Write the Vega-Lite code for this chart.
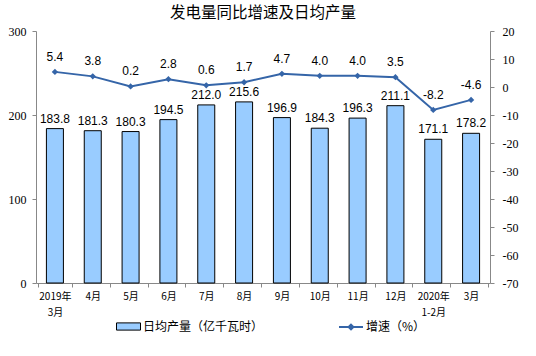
{
  "$schema": "https://vega.github.io/schema/vega-lite/v6.json",
  "width": 454,
  "height": 252,
  "autosize": "none",
  "padding": {"left": 36, "top": 31, "right": 46, "bottom": 73},
  "background": "white",
  "title": {"text": "发电量同比增速及日均产量", "font": "Noto Sans CJK SC", "fontSize": 15.5, "fontWeight": "normal", "color": "#000", "offset": 4, "anchor": "middle"},
  "config": {"view": {"stroke": null}, "axis": {"grid": false},
    "locale": {"number": {"decimal": ".", "thousands": ",", "grouping": [3], "currency": ["$", ""], "minus": "-"}}},
  "data": {"values": [
    {"m": "2019年\n3月", "v": 183.8, "g": 5.4},
    {"m": "4月", "v": 181.3, "g": 3.8},
    {"m": "5月", "v": 180.3, "g": 0.2},
    {"m": "6月", "v": 194.5, "g": 2.8},
    {"m": "7月", "v": 212.0, "g": 0.6},
    {"m": "8月", "v": 215.6, "g": 1.7},
    {"m": "9月", "v": 196.9, "g": 4.7},
    {"m": "10月", "v": 184.3, "g": 4.0},
    {"m": "11月", "v": 196.3, "g": 4.0},
    {"m": "12月", "v": 211.1, "g": 3.5},
    {"m": "2020年\n1-2月", "v": 171.1, "g": -8.2},
    {"m": "3月", "v": 178.2, "g": -4.6}
  ]},
  "encoding": {
    "x": {"field": "m", "type": "nominal", "sort": null, "title": null,
      "axis": {"labelAngle": 0, "labelExpr": "split(datum.label, '\\n')", "labelFont": "Noto Sans CJK SC", "labelFontSize": 10, "labelColor": "#000", "domainColor": "#888", "tickColor": "#888", "tickBand": "extent", "tickSize": 4, "labelPadding": 4, "labelLineHeight": 16}}
  },
  "layer": [
    {
      "encoding": {"y": {"field": "v", "type": "quantitative", "title": null,
        "scale": {"domain": [0, 300]},
        "axis": {"values": [0, 100, 200, 300], "labelOverlap": false, "labelFont": "Liberation Serif", "labelFontSize": 12, "labelColor": "#000", "domainColor": "#888", "tickColor": "#888", "tickSize": 4, "labelPadding": 6}}},
      "layer": [
        {"mark": {"type": "bar", "size": 17, "stroke": "#000", "strokeWidth": 1},
         "encoding": {
           "color": {"datum": "日均产量（亿千瓦时）", "scale": {"range": ["#99CCFF"]},
             "legend": {"title": null, "orient": "none", "legendX": 80, "legendY": 283, "symbolType": "M-1,-0.3H1V0.3H-1Z", "symbolSize": 576, "symbolStrokeColor": "#000", "symbolStrokeWidth": 1, "labelFont": "Noto Sans CJK SC", "labelFontSize": 12, "labelColor": "#000", "labelOffset": 2}}}},
        {"mark": {"type": "text", "baseline": "bottom", "dy": -3, "font": "Liberation Sans", "fontSize": 12, "color": "#000"},
         "encoding": {"text": {"field": "v", "type": "quantitative", "format": ".1f"}}}
      ]
    },
    {
      "encoding": {"y": {"field": "g", "type": "quantitative", "title": null,
        "scale": {"domain": [-70, 20]},
        "axis": {"orient": "right", "values": [20, 10, 0, -10, -20, -30, -40, -50, -60, -70], "labelOverlap": false, "labelFont": "Liberation Serif", "labelFontSize": 12, "labelColor": "#000", "domainColor": "#888", "tickColor": "#888", "tickSize": 4, "labelPadding": 8}}},
      "layer": [
        {"mark": {"type": "line", "strokeWidth": 2, "point": {"shape": "diamond", "size": 40, "filled": true}},
         "encoding": {
           "color": {"datum": "增速（%）", "scale": {"range": ["#3565A8"]},
             "legend": {"title": null, "orient": "none", "legendX": 302, "legendY": 283, "symbolType": "M-1,0H1M0,-0.2L0.2,0L0,0.2L-0.2,0Z", "symbolSize": 576, "symbolStrokeWidth": 2, "labelFont": "Noto Sans CJK SC", "labelFontSize": 12, "labelColor": "#000", "labelOffset": 2}}}},
        {"mark": {"type": "text", "baseline": "bottom", "dy": -8, "font": "Liberation Sans", "fontSize": 12, "color": "#000"},
         "encoding": {"text": {"field": "g", "type": "quantitative", "format": ".1f"}}}
      ]
    }
  ],
  "resolve": {"scale": {"y": "independent", "color": "independent"}}
}
